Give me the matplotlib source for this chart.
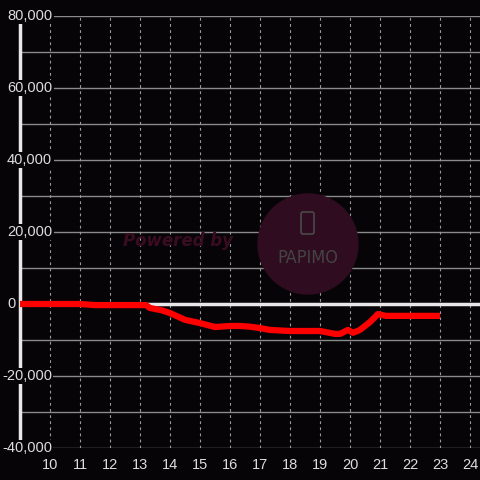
import matplotlib.pyplot as plt
from matplotlib.patches import Circle, FancyBboxPatch
from matplotlib.transforms import blended_transform_factory

# data
hours = [9.0, 10.0, 11.0, 11.5, 12.0, 13.0, 13.2, 13.33, 13.7, 14.0, 14.5, 15.0, 15.5, 16.0,
         16.33, 16.67, 17.0, 17.33, 18.0, 19.0, 19.5, 19.67, 19.93, 20.1, 20.33, 20.67,
         20.93, 21.2, 22.0, 23.0]
diff = [0, 0, 0, -300, -300, -300, -300, -1100, -1700, -2500, -4400, -5300, -6400, -6100,
        -6100, -6300, -6700, -7200, -7500, -7500, -8300, -8300, -7200, -8000, -7200, -5000,
        -2800, -3300, -3300, -3300]
x_ticks = list(range(10, 25))
y_ticks = [-40000, -20000, 0, 20000, 40000, 60000, 80000]

bg = '#060407'
plt.rcParams['font.family'] = ['Liberation Sans', 'DejaVu Sans']

fig = plt.figure(figsize=(4.8, 4.8), dpi=100, facecolor=bg)
ax = fig.add_axes([20 / 480, 32 / 480, 460 / 480, 432 / 480])
ax.set_xlim(9, 24.333)
ax.set_ylim(-40000, 80000)
ax.patch.set_alpha(0)

# watermark (behind the grid)
fig.patches.append(Circle((308, 236), 50, transform=None, color='#2f0c1f', zorder=0))
fig.patches.append(FancyBboxPatch((301, 246), 13, 22, boxstyle='round,pad=0,rounding_size=2',
                                  transform=None, fill=False, ec='#4a4a4a', lw=1.2, zorder=0))
fig.text(123 / 480, 1 - 241 / 480, 'Powered by', color='#3a0c20', fontsize=12,
         fontweight='bold', style='italic', va='center', ha='left', family='DejaVu Sans')
fig.text(308 / 480, 1 - 258 / 480, 'PAPIMO', color='#444444', fontsize=13,
         va='center', ha='center', family='DejaVu Sans', fontstretch='condensed')

# grid
for v in range(-40000, 80001, 10000):
    ax.axhline(v, color='#8a8a8a', lw=1.0, zorder=1)
for t in x_ticks:
    ax.axvline(t, color='#9a9a9a', lw=0.8, ls=(0, (2.5, 3)), zorder=1)
ax.axhline(0, color='#e8e8e8', lw=2.5, zorder=2)

ax.plot(hours, diff, color='#ff0000', lw=4.5, solid_capstyle='butt',
        solid_joinstyle='round', zorder=4)

for s in ['top', 'right', 'bottom']:
    ax.spines[s].set_visible(False)
ax.spines['left'].set_color('#e8e8e8')
ax.spines['left'].set_linewidth(2.5)
ax.spines['left'].set_zorder(3)

ax.set_yticks([])
ax.set_xticks(x_ticks)
ax.set_xticklabels([str(t) for t in x_ticks], color='#dddddd', fontsize=10.5)
ax.tick_params(axis='x', length=0, pad=7)

# y labels sit over the axis line with a dark box behind them
trans = blended_transform_factory(fig.transFigure, ax.transData)
for v in y_ticks:
    left = 2 if v < 0 else 7
    ax.text(left / 480, v, f'{v:,}', transform=trans, ha='left', va='center',
            color='#dddddd', fontsize=10.5, zorder=5, clip_on=False,
            bbox=dict(facecolor=bg, edgecolor='none', pad=1.0))

fig.savefig('out.png', dpi=100, facecolor=bg)
